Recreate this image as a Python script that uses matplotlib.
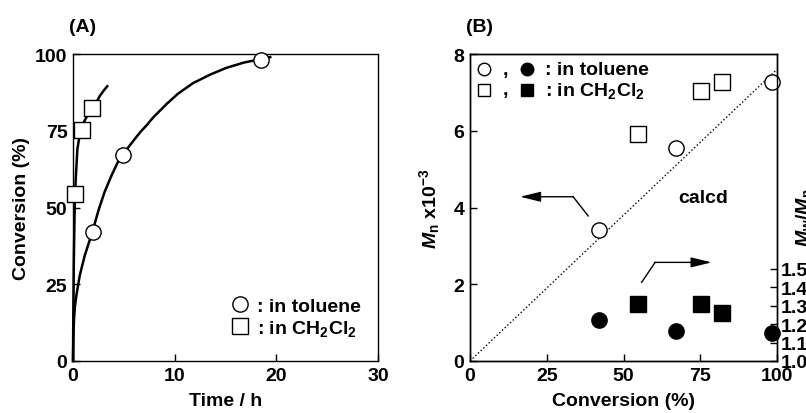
# Conversion vs time (A) and Mn, Mw/Mn vs conversion (B)

import numpy as np
import matplotlib
matplotlib.use('Agg')
import matplotlib.pyplot as plt

plt.rcParams['font.family'] = ['Liberation Sans', 'DejaVu Sans']
plt.rcParams['font.weight'] = 'bold'
plt.rcParams['axes.labelweight'] = 'bold'
plt.rcParams['font.size'] = 14
plt.rcParams['mathtext.fontset'] = 'custom'
plt.rcParams['mathtext.rm'] = 'Liberation Sans:bold'
plt.rcParams['mathtext.it'] = 'Liberation Sans:italic:bold'
plt.rcParams['mathtext.bf'] = 'Liberation Sans:bold'

# --- panel A data ---
tol_time = [2.0, 4.9, 18.5]
tol_conv = [42, 67, 98]
dcm_time = [0.2, 0.85, 1.9]
dcm_conv = [54.5, 75.2, 82.4]

# fitted curves
tol_fit_t = [0, 0.03, 0.1, 0.2, 0.33, 0.66, 1.15, 1.9, 2.5, 3.1, 3.8, 4.4, 4.9, 5.3,
             6.0, 6.6, 7.3, 7.9, 8.6, 9.2, 10.3, 11.8, 13.5, 15.1, 16.8, 18.4, 19.4]
tol_fit_y = [0, 6, 13.7, 18, 21.3, 27.8, 34.3, 42, 49, 55, 60.5, 64.7, 67, 69,
             72, 74.5, 77, 79.4, 81.7, 83.7, 87, 90.5, 93.3, 95.5, 97.2, 98.3, 99.0]
dcm_fit_t = [0, 0.03, 0.08, 0.15, 0.2, 0.28, 0.36, 0.43, 0.6, 0.8, 1.1, 1.5, 1.9,
             2.3, 2.65, 3.0, 3.37]
dcm_fit_y = [0, 15, 32, 47, 54, 60, 64.7, 69, 72.5, 75.2, 78, 80.5, 82.4,
             84.3, 86.4, 88, 89.5]

# --- panel B data ---
tol_x = [42.1, 67.1, 98.3]
tol_mn = [3.42, 5.55, 7.27]
tol_pdi = [1.22, 1.16, 1.15]
dcm_x = [54.7, 75.3, 82.2]
dcm_mn = [5.91, 7.04, 7.27]
dcm_pdi = [1.31, 1.31, 1.26]
calcd_x = [0, 100]
calcd_mn = [0, 7.6]

W, H = 806, 414
fig = plt.figure(figsize=(W / 100, H / 100), dpi=100)
axA = fig.add_axes([73 / W, 1 - 362 / H, 305 / W, 307 / H])
axB = fig.add_axes([470 / W, 1 - 362 / H, 307 / W, 307 / H])

tick_kw = dict(direction='in', length=5, width=1, pad=4)
mk = dict(markersize=11, markeredgewidth=1, linestyle='none', clip_on=False, zorder=5)

# ---------- (A) ----------
axA.plot(tol_fit_t, tol_fit_y, color='black', linewidth=1.8, clip_on=False)
axA.plot(dcm_fit_t, dcm_fit_y, color='black', linewidth=1.8, clip_on=False)
axA.plot(tol_time, tol_conv, marker='o', markerfacecolor='white', markeredgecolor='black',
         label=': in toluene', **mk)
axA.plot(dcm_time, dcm_conv, marker='s', markerfacecolor='white', markeredgecolor='black',
         label=r': in CH$_2$Cl$_2$', **mk)
axA.set_xlim(0, 30)
axA.set_ylim(0, 100)
axA.set_xticks([0, 10, 20, 30])
axA.set_yticks([0, 25, 50, 75, 100])
axA.tick_params(**tick_kw)
axA.set_xlabel('Time / h', labelpad=6)
axA.set_ylabel('Conversion (%)', labelpad=4)
axA.legend(loc='lower right', frameon=False, handletextpad=0.3, handlelength=1.2,
           borderaxespad=0.3, labelspacing=0.15, bbox_to_anchor=(0.99, 0.03))
axA.text(-0.013, 1.075, '(A)', transform=axA.transAxes)

# ---------- (B) ----------
axB.plot(calcd_x, calcd_mn, color='black', linestyle=':', linewidth=1)
axB.plot(tol_x, tol_mn, marker='o', markerfacecolor='white', markeredgecolor='black', **mk)
axB.plot(dcm_x, dcm_mn, marker='s', markerfacecolor='white', markeredgecolor='black', **mk)
axB.set_xlim(0, 100)
axB.set_ylim(0, 8)
axB.set_xticks([0, 25, 50, 75, 100])
axB.set_yticks([0, 2, 4, 6, 8])
axB.tick_params(**tick_kw)
axB.set_xlabel('Conversion (%)', labelpad=6)
axB.set_ylabel(r'$M_\mathrm{n}$ x10$^{-3}$', labelpad=8)
axB.text(-0.013, 1.075, '(B)', transform=axB.transAxes)
axB.text(76, 4.26, 'calcd', ha='center', va='center')

# arrows pointing at the axes
axB.plot([38.5, 33.6], [3.78, 4.28], color='black', linewidth=1)
axB.annotate('', xy=(16.3, 4.28), xytext=(33.7, 4.28),
             arrowprops=dict(arrowstyle='-|>,head_length=0.9,head_width=0.22',
                             color='black', linewidth=1, shrinkA=0, shrinkB=0))
axB.plot([55.9, 60.3], [2.05, 2.57], color='black', linewidth=1)
axB.annotate('', xy=(78.7, 2.57), xytext=(60.2, 2.57),
             arrowprops=dict(arrowstyle='-|>,head_length=0.9,head_width=0.22',
                             color='black', linewidth=1, shrinkA=0, shrinkB=0))

# legend keys for (B)
for row, (m, lab) in enumerate([('o', ': in toluene'), ('s', r': in CH$_2$Cl$_2$')]):
    fy = 0.951 - row * 0.067
    axB.plot([0.047], [fy], marker=m, markersize=9, markerfacecolor='white',
             markeredgecolor='black', markeredgewidth=1, transform=axB.transAxes,
             clip_on=False)
    axB.text(0.114, fy, ',', transform=axB.transAxes, ha='center', va='center')
    axB.plot([0.185], [fy], marker=m, markersize=9, color='black',
             transform=axB.transAxes, clip_on=False)
    axB.text(0.245, fy, lab, transform=axB.transAxes, ha='left', va='center')

ax2 = axB.twinx()
ax2.plot(tol_x, tol_pdi, marker='o', color='black', **mk)
ax2.plot(dcm_x, dcm_pdi, marker='s', color='black', **mk)
ax2.set_ylim(1.0, 2.66)
ax2.set_yticks([1.0, 1.1, 1.2, 1.3, 1.4, 1.5])
ax2.set_yticklabels(['1.0', '1.1', '1.2', '1.3', '1.4', '1.5'])
ax2.tick_params(axis='y', direction='in', length=5, width=1, pad=3)
ax2.set_ylabel(r'$M_\mathrm{w}/M_\mathrm{n}$')
ax2.yaxis.set_label_coords(1.055, 0.47)

for ax in (axA, axB, ax2):
    for s in ax.spines.values():
        s.set_linewidth(1)

fig.savefig('out.png', dpi=100)
